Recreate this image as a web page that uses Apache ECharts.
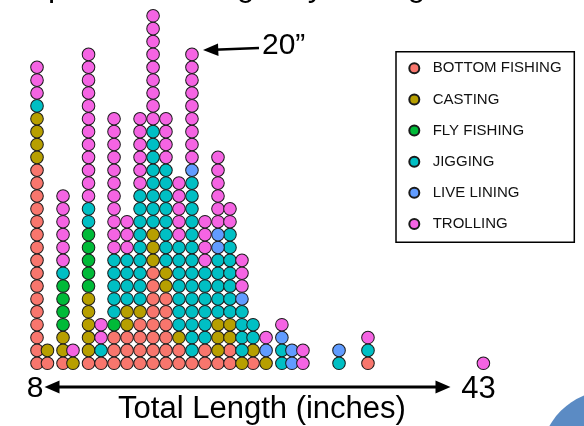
<!DOCTYPE html>
<html><head><meta charset="utf-8">
<script src="https://cdn.jsdelivr.net/npm/echarts@6/dist/echarts.min.js"></script>
<style>html,body{margin:0;padding:0;background:#fff;overflow:hidden}#c{width:584px;height:426px}</style>
</head><body><div id="c"></div>
<script>
// Fishing methods (legend order = stacking order, bottom to top)
const methods = ['BOTTOM FISHING', 'CASTING', 'FLY FISHING', 'JIGGING', 'LIVE LINING', 'TROLLING'];
const colors = ['#F8766D', '#B79F00', '#00BA38', '#00BFC4', '#619CFF', '#F564E3'];

// Column positions: total length (inches)
const lengths = [8.0, 8.82, 10.04, 10.82, 12.04, 13.02, 14.04, 15.06, 16.08, 17.1, 18.11, 19.13,
                 20.15, 21.17, 22.19, 23.13, 24.07, 24.94, 25.96, 27.2, 27.99, 28.85, 31.68, 33.95, 43.0];

// Number of fish per column for each method
const bottomFishing = [16,1,1,0,1,1,3,3,4,8,6,2,1,2,1,2,0,1,0,0,0,0,0,1,0];
const casting       = [4,1,2,1,5,0,0,2,1,3,2,1,0,0,3,2,1,1,1,0,0,0,0,0,0];
const flyFishing    = [0,0,4,0,5,0,1,0,0,0,0,0,0,0,0,0,0,0,0,0,0,0,0,0,0];
const jigging       = [1,0,1,0,2,1,5,4,9,8,8,7,14,6,5,7,4,2,0,2,0,0,1,1,0];
const liveLining    = [0,0,0,0,0,0,0,0,0,0,0,0,1,0,2,0,1,0,1,1,2,0,1,0,0];
const trolling      = [3,0,6,1,12,2,11,3,6,9,4,5,9,4,6,2,3,0,1,1,0,2,0,1,1];

// Axis end labels
const axisMinLabel = '8';
const axisMaxLabel = '43';
const axisTitle = 'Total Length (inches)';
const noteLabel = '20\u201D';
const topTitle = 'Sample of fish length by fishing method';

const counts = [bottomFishing, casting, flyFishing, jigging, liveLining, trolling];
const stackHeight = lengths.map(() => 0);
const series = methods.map((name, i) => {
  const data = [];
  lengths.forEach((len, j) => {
    for (let n = 0; n < counts[i][j]; n++) {
      data.push([len, stackHeight[j]]);
      stackHeight[j]++;
    }
  });
  return {
    name, type: 'scatter', data, symbol: 'circle', symbolSize: 12.6,
    itemStyle: { color: colors[i], borderColor: '#1a1a1a', borderWidth: 1, opacity: 1 },
    emphasis: { disabled: true }, z: 2
  };
});

const FONT = '"Liberation Sans", Arial, sans-serif';
const chart = echarts.init(document.getElementById('c'), null, { renderer: 'canvas' });
chart.setOption({
  animation: false,
  backgroundColor: '#fff',
  grid: { left: 24.25, right: 75.1, top: 10, bottom: 56.27, containLabel: false },
  xAxis: { type: 'value', min: 7, max: 45, show: false },
  yAxis: { type: 'value', min: -0.5, max: 27.45, show: false },
  legend: {
    orient: 'vertical', left: 408.3, top: 60.3, padding: 0,
    itemWidth: 10, itemHeight: 10, itemGap: 15.14, icon: 'circle',
    data: methods,
    textStyle: { fontFamily: FONT, fontSize: 15, lineHeight: 16, color: '#111', padding: [0, 0, 0, 8.4] }
  },
  tooltip: { show: false },
  series,
  graphic: [
    { type: 'rect', shape: { x: 396, y: 51.7, width: 178.3, height: 190.6 },
      style: { fill: 'none', stroke: '#000', lineWidth: 1.5 }, z: 1 },
    // bottom double arrow
    { type: 'line', shape: { x1: 56, y1: 387, x2: 439, y2: 387 }, style: { stroke: '#000', lineWidth: 3 } },
    { type: 'polygon', shape: { points: [[44.5, 387], [59.5, 380.5], [59.5, 393.5]] }, style: { fill: '#000' } },
    { type: 'polygon', shape: { points: [[450.5, 387], [435.5, 380.5], [435.5, 393.5]] }, style: { fill: '#000' } },
    { type: 'text', style: { text: axisMinLabel, x: 35, y: 389, font: '30px ' + FONT, fill: '#000', align: 'center', verticalAlign: 'middle' } },
    { type: 'text', style: { text: axisMaxLabel, x: 478.5, y: 389, font: '31px ' + FONT, fill: '#000', align: 'center', verticalAlign: 'middle' } },
    { type: 'text', style: { text: axisTitle, x: 262, y: 409, font: '31px ' + FONT, fill: '#000', align: 'center', verticalAlign: 'middle' } },
    // 20" pointer
    { type: 'line', shape: { x1: 214, y1: 49.7, x2: 259, y2: 48 }, style: { stroke: '#000', lineWidth: 2.5 } },
    { type: 'polygon', shape: { points: [[203, 50], [218, 43.5], [218.5, 56]] }, style: { fill: '#000' } },
    { type: 'text', style: { text: noteLabel, x: 262, y: 46, font: '30px ' + FONT, fill: '#000', align: 'left', verticalAlign: 'middle' } },
    // clipped heading at top
    { type: 'text', style: { text: topTitle, x: -17.7, y: -12.5, font: '32px ' + FONT, fill: '#000', align: 'left', verticalAlign: 'middle' } },
    // slide corner decoration
    { type: 'circle', shape: { cx: 610, cy: 460, r: 69.5 }, style: { fill: '#5b8bc4' } }
  ]
});
</script></body></html>
